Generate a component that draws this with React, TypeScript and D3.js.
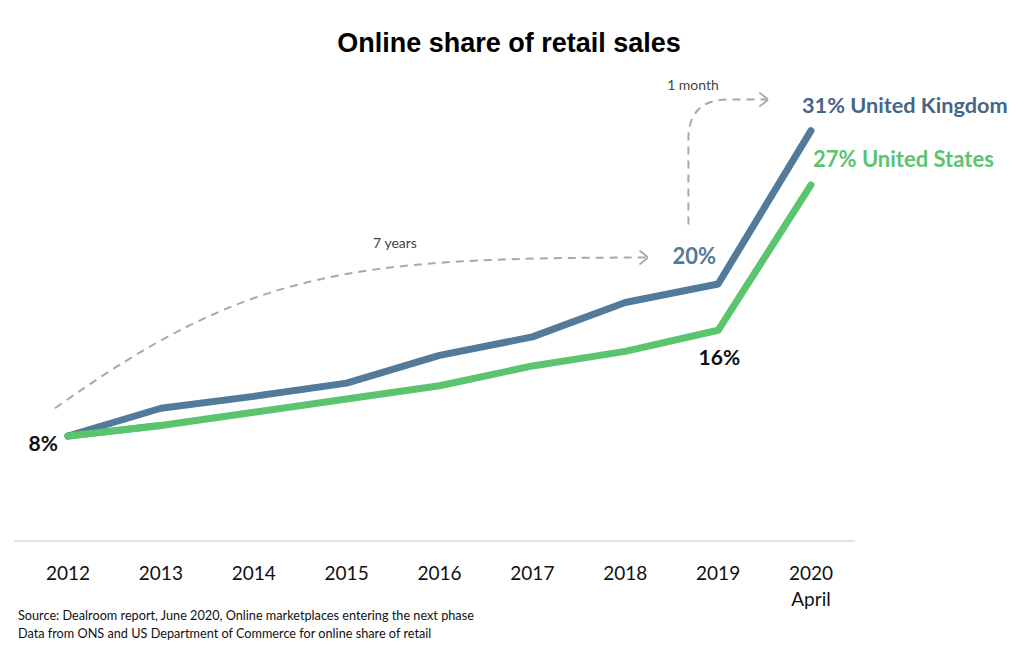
import React from "react";
import * as d3 from "d3";

const years = [2012, 2013, 2014, 2015, 2016, 2017, 2018, 2019, 2020];
const yearLabels = ["2012", "2013", "2014", "2015", "2016", "2017", "2018", "2019", "2020"];
const ukShare = [8, 10.1, 11.0, 12.0, 14.1, 15.5, 18.1, 19.5, 31.1];
const usShare = [8, 8.8, 9.8, 10.8, 11.8, 13.3, 14.4, 16.0, 27.0];

// annotation arrows, in [year, share] units
const sevenYearsArrow: [number, number][] = [
  [2011.86, 10.1],
  [2013.96, 20.6],
  [2015.04, 21.5],
  [2018.25, 21.5],
];
const oneMonthArrow: [number, number][] = [
  [2018.68, 24.0],
  [2018.68, 30.4],
  [2018.68, 33.45],
  [2019.1, 33.45],
  [2019.54, 33.45],
];

const W = 1024;
const H = 660;
const UK = "#527a9a";
const US = "#5ac46e";
const GREY = "#a9a9a9";
const LABEL_FONT = "Lato, 'Open Sans', sans-serif";

const App: React.FC = () => {
  const x = d3.scaleLinear().domain([2012, 2020]).range([68, 811]);
  const y = d3.scaleLinear().domain([8, 31]).range([436, 132]);

  const line = d3
    .line<number>()
    .x((_, i) => x(years[i]))
    .y((d) => y(d));

  const a7 = sevenYearsArrow.map(([a, b]) => [x(a), y(b)]);
  const sevenPath = `M${a7[0]}C${a7[1]} ${a7[2]} ${a7[3]}`;
  const a1 = oneMonthArrow.map(([a, b]) => [x(a), y(b)]);
  const monthPath = `M${a1[0]}L${a1[1]}Q${a1[2]} ${a1[3]}L${a1[4]}`;

  const last = years.length - 1;

  return (
    <svg
      width={W}
      height={H}
      style={{ position: "absolute", left: 0, top: 0, background: "#fff" }}
    >
      <defs>
        <marker
          id="chev"
          viewBox="0 0 10 16"
          refX={10}
          refY={8}
          markerWidth={10}
          markerHeight={16}
          markerUnits="userSpaceOnUse"
          orient="auto"
        >
          <path d="M1,1 L10,8 L1,15" fill="none" stroke={GREY} strokeWidth={1.8} />
        </marker>
      </defs>

      <text
        x={509}
        y={52}
        textAnchor="middle"
        fontFamily="'Liberation Sans', Arial, sans-serif"
        fontWeight="bold"
        fontSize={27}
        fill="#000"
      >
        Online share of retail sales
      </text>

      {/* baseline */}
      <line x1={14} x2={855} y1={541} y2={541} stroke="#e3e3e3" strokeWidth={2} />

      {/* x tick labels */}
      {years.map((yr, i) => (
        <text
          key={yr}
          x={x(yr)}
          y={580}
          textAnchor="middle"
          fontFamily={LABEL_FONT}
          fontSize={19}
          fill="#111"
        >
          {yearLabels[i]}
        </text>
      ))}
      <text x={x(2020)} y={606} textAnchor="middle" fontFamily={LABEL_FONT} fontSize={19} fill="#111">
        April
      </text>

      {/* annotations */}
      <path
        d={sevenPath}
        fill="none"
        stroke={GREY}
        strokeWidth={2}
        strokeDasharray="8,6"
        markerEnd="url(#chev)"
      />
      <text x={395} y={248} textAnchor="middle" fontFamily={LABEL_FONT} fontSize={14} fill="#444">
        7 years
      </text>
      <path
        d={monthPath}
        fill="none"
        stroke={GREY}
        strokeWidth={2}
        strokeDasharray="8,6"
        markerEnd="url(#chev)"
      />
      <text x={693} y={90} textAnchor="middle" fontFamily={LABEL_FONT} fontSize={14} fill="#444">
        1 month
      </text>

      {/* series */}
      <path
        d={line(usShare) || ""}
        fill="none"
        stroke={US}
        strokeWidth={7}
        strokeLinecap="round"
        strokeLinejoin="round"
      />
      <path
        d={line(ukShare) || ""}
        fill="none"
        stroke={UK}
        strokeWidth={7}
        strokeLinecap="round"
        strokeLinejoin="round"
      />
      <path
        d={line(usShare.slice(0, 2)) || ""}
        fill="none"
        stroke={US}
        strokeWidth={7}
        strokeLinecap="round"
      />

      {/* value labels */}
      <text x={x(2012) - 10} y={y(8) + 15} textAnchor="end" fontFamily={LABEL_FONT} fontWeight="bold" fontSize={21} fill="#111">
        8%
      </text>
      <text x={x(2019) - 2} y={y(ukShare[7]) - 20} textAnchor="end" fontFamily={LABEL_FONT} fontWeight="bold" fontSize={22} fill={UK}>
        20%
      </text>
      <text x={x(2019) + 22} y={y(usShare[7]) + 35} textAnchor="end" fontFamily={LABEL_FONT} fontWeight="bold" fontSize={21} fill="#111">
        16%
      </text>
      <text x={x(2020) - 9} y={y(ukShare[last]) - 18} fontFamily={LABEL_FONT} fontWeight="bold" fontSize={21.7} fill="#456686">
        31% United Kingdom
      </text>
      <text x={x(2020) + 2} y={y(usShare[last]) - 18} fontFamily={LABEL_FONT} fontWeight="bold" fontSize={22} fill={US}>
        27% United States
      </text>

      {/* source */}
      <text x={18} y={620} fontFamily={LABEL_FONT} fontSize={12.7} fill="#111">
        Source: Dealroom report, June 2020, Online marketplaces entering the next phase
      </text>
      <text x={18} y={638} fontFamily={LABEL_FONT} fontSize={12.7} fill="#111">
        Data from ONS and US Department of Commerce for online share of retail
      </text>
    </svg>
  );
};

export default App;
